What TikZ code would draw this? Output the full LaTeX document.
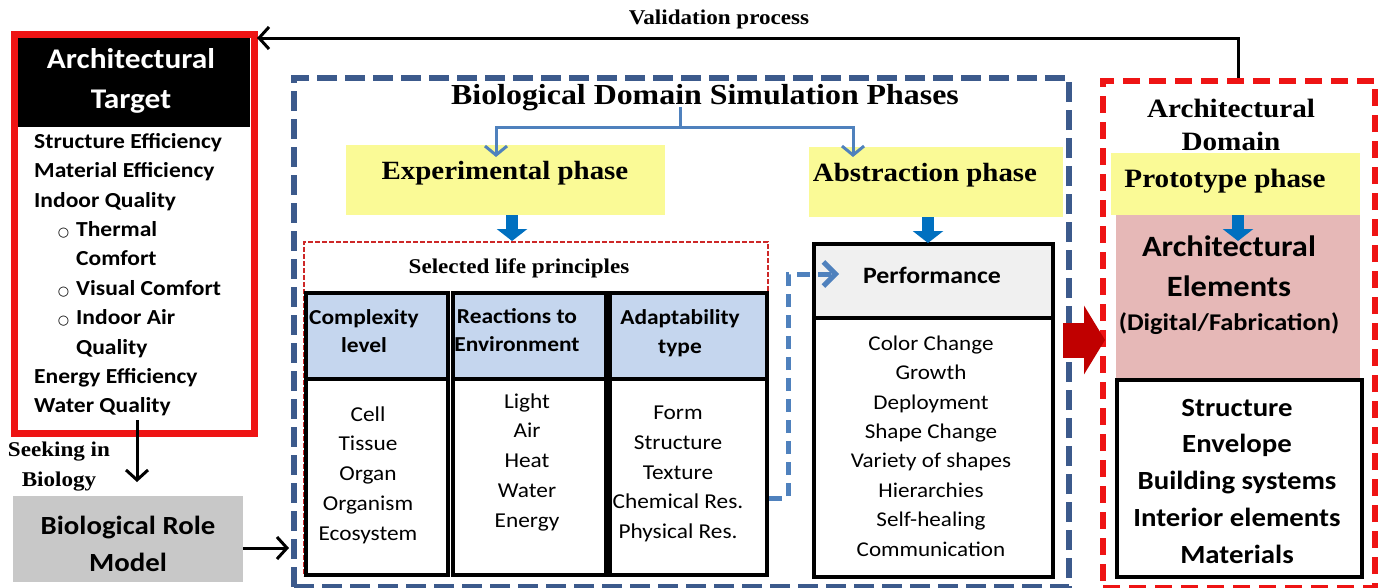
\documentclass[tikz,border=0pt]{standalone}
\usepackage{fontspec}
\setmainfont[FakeStretch=1.1]{Liberation Serif}
\newfontfamily\calib[FakeStretch=1.1]{Carlito}
\newfontfamily\dvs{DejaVu Sans}
\usetikzlibrary{arrows.meta}
\definecolor{redb}{RGB}{238,20,20}
\definecolor{dblue}{RGB}{60,90,140}
\definecolor{lineblue}{RGB}{79,129,189}
\definecolor{bblue}{RGB}{0,112,192}
\definecolor{yel}{RGB}{250,250,150}
\definecolor{lblue}{RGB}{197,214,238}
\definecolor{grayb}{RGB}{200,200,200}
\definecolor{pinkb}{RGB}{230,184,183}
\definecolor{dred}{RGB}{192,0,0}
\definecolor{selred}{RGB}{205,40,40}
\definecolor{perfg}{RGB}{240,240,240}
\newcommand\fs[2]{\fontsize{#1}{#2}\selectfont}
\newcommand\subb{\makebox[42pt][r]{{\dvs\mdseries\fs{13}{13}○}\hspace{7pt}}}
\tikzset{
  rect/.style={anchor=north west, inner sep=0pt},
  colbox/.style={rect, draw=black, line width=3.5pt},
  hdtxt/.style={font=\calib\bfseries\fs{21.3}{28.5}, align=center},
  bodytxt/.style={font=\calib\fs{21.2}{29.75}, align=center},
  fatarrow/.style={line width=12pt, draw=bblue, -{Triangle[width=30pt,length=12pt]}},
  branch/.style={line width=3pt, draw=lineblue, -{Straight Barb[length=9pt,width=22pt]}},
  blk/.style={line width=3pt, draw=black, -{Straight Barb[length=10pt,width=22pt]}},
}
\begin{document}
\begin{tikzpicture}[x=1pt,y=-1pt]
\useasboundingbox (0,0) rectangle (1378,587);

% ---------- left column ----------
\node[rect, fill=black, minimum width=238, minimum height=94] (hdr) at (12,33) {};
\node[rect, draw=redb, line width=6.5pt, minimum width=240, minimum height=399] (tgt) at (11,31) {};
\node[text=white, font=\calib\bfseries\fs{28.5}{40}, align=center] (hdrt) at (131,81) {Architectural\\Target};
\node[rect, align=left, font=\calib\bfseries\fs{21.4}{29.4}] (lst) at (34,133) {Structure Efficiency\\
Material Efficiency\\
Indoor Quality\\
\subb Thermal\\
\hspace*{42pt}Comfort\\
\subb Visual Comfort\\
\subb Indoor Air\\
\hspace*{42pt}Quality\\
Energy Efficiency\\
Water Quality};

\node[font=\bfseries\fs{21}{30}, align=center] (seek) at (59,467) {Seeking in\\Biology};
\node[rect, fill=grayb, minimum width=230, minimum height=86] (role) at (13,496) {};
\node[font=\calib\bfseries\fs{26.2}{37}, align=center] (rolet) at (128,544) {Biological Role\\Model};

\coordinate (s1) at (137,420);
\coordinate (s2) at (137,482);
\draw[blk] (s1) -- (s2);

% ---------- biological domain ----------
\node[rect, draw=dblue, line width=6pt, dash pattern=on 20pt off 8pt, minimum width=775, minimum height=509] (bio) at (291,75) {};
\coordinate (r1) at (243,548);
\coordinate (r2) at (289,548);
\draw[blk] (r1) -- (r2);

\node[font=\bfseries\fs{29}{29}] (title) at (705,98) {Biological Domain Simulation Phases};

\node[rect, fill=yel, minimum width=319, minimum height=70] (exp) at (346,145) {};
\node[font=\bfseries\fs{26.3}{26}] (expt) at (505,173) {Experimental phase};
\node[rect, fill=yel, minimum width=254, minimum height=70] (abs) at (809,147) {};
\node[font=\bfseries\fs{26.3}{26}] (abst) at (925,175) {Abstraction phase};

\coordinate (br) at (680,107);
\coordinate (bj) at (680,127);
\coordinate (bl) at (496,157);
\coordinate (brr) at (853,157);
\draw[branch] (br) -- (bj) -| (bl);
\draw[branch] (bj) -| (brr);

\node[rect, draw=selred, line width=1.5pt, dash pattern=on 5pt off 2pt, minimum width=464, minimum height=334] (sel) at (303,241) {};
\node[font=\bfseries\fs{21}{21}] (selt) at (519,268) {Selected life principles};

\node[colbox, fill=lblue, minimum width=142, minimum height=86] (h1) at (304,291) {};
\node[colbox, minimum width=142, minimum height=196] (b1) at (304,377) {};
\node[colbox, fill=lblue, minimum width=153, minimum height=86] (h2) at (451,291) {};
\node[colbox, minimum width=153, minimum height=196] (b2) at (451,377) {};
\node[colbox, fill=lblue, minimum width=157, minimum height=86] (h3) at (608,291) {};
\node[colbox, minimum width=157, minimum height=196] (b3) at (608,377) {};

\node[hdtxt] (h1t) at (364,331) {Complexity\\level};
\node[hdtxt] (h2t) at (517,330) {Reactions to\\Environment};
\node[hdtxt] (h3t) at (680,333) {Adaptability\\type};

\node[bodytxt] (b1t) at (368,475) {Cell\\Tissue\\Organ\\Organism\\Ecosystem};
\node[bodytxt] (b2t) at (527,462) {Light\\Air\\Heat\\Water\\Energy};
\node[bodytxt] (b3t) at (678,474) {Form\\Structure\\Texture\\Chemical Res.\\Physical Res.};

\node[colbox, fill=perfg, minimum width=239, minimum height=74] (pfh) at (812,242) {};
\node[colbox, minimum width=239, minimum height=259] (pfb) at (812,316) {};
\node[font=\calib\bfseries\fs{23.5}{23}] (pft) at (932,275) {Performance};
\node[font=\calib\fs{21}{29.43}, align=center] (pfl) at (931,446) {Color Change\\Growth\\Deployment\\Shape Change\\Variety of shapes\\Hierarchies\\Self-healing\\Communication};

\draw[fatarrow] (512,215) -- (512,241);
\draw[fatarrow] (928,217) -- (928,243);

\coordinate (c1) at (769,498);
\coordinate (c2) at (788,498);
\coordinate (c3) at (788,274);
\coordinate (c4) at (839,274);
\draw[line width=5pt, draw=lineblue, dash pattern=on 13pt off 8pt, -{Straight Barb[length=12pt,width=24pt]}] (c1) -- (c2) -- (c3) -- (c4);

% ---------- architectural domain ----------
\node[font=\bfseries\fs{26.5}{33}, align=center] (archt) at (1231,125) {Architectural\\Domain};
\node[rect, fill=yel, minimum width=249, minimum height=62] (pro) at (1111,153) {};
\node[font=\bfseries\fs{26.5}{26}] (prot) at (1225,181) {Prototype phase};
\node[rect, fill=pinkb, minimum width=244, minimum height=163] (pink) at (1116,215) {};
\node[font=\calib\bfseries\fs{29.5}{40}, align=center] (pinkt) at (1229,266) {Architectural\\Elements};
\node[font=\calib\bfseries\fs{24}{24}] (pinkt2) at (1229,324) {(Digital/Fabrication)};
\node[colbox, minimum width=245, minimum height=197] (elb) at (1115,378) {};
\node[font=\calib\bfseries\fs{26.2}{36.75}, align=center] (elt) at (1237,481) {Structure\\Envelope\\Building systems\\Interior elements\\Materials};
\draw[fatarrow] (1238,215) -- (1238,241);

\node[rect, draw=redb, line width=6pt, dash pattern=on 17pt off 9pt, minimum width=272, minimum height=507] (arch) at (1100,78) {};

% big red arrow
\coordinate (ra1) at (1063,340);
\coordinate (ra2) at (1105,340);
\draw[line width=35pt, draw=dred, -{Triangle[width=68pt,length=21pt]}] (ra1) -- (ra2);

% validation
\node[font=\bfseries\fs{21}{21}] (val) at (719,19) {Validation process};
\coordinate (v1) at (1238,78);
\coordinate (v2) at (1238,38);
\coordinate (v3) at (257,38);
\draw[blk] (v1) -- (v2) -- (v3);
\end{tikzpicture}
\end{document}
